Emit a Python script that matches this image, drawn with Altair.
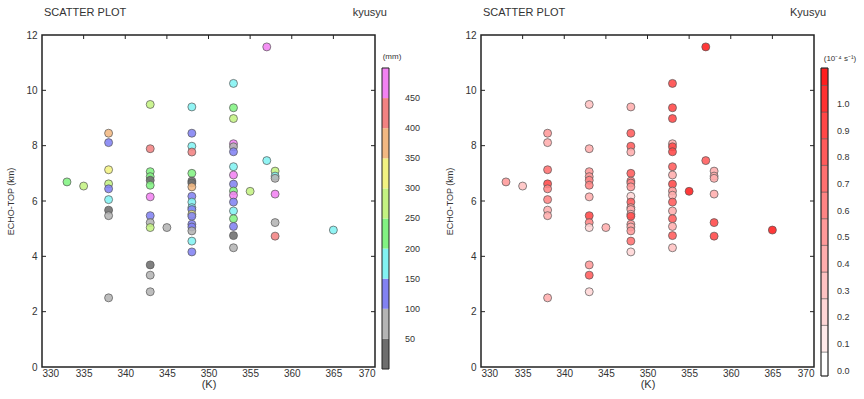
import altair as alt
import pandas as pd

# ---------------- data ----------------
temp_k = [333, 335,
          338, 338, 338, 338, 338, 338, 338, 338, 338,
          343, 343, 343, 343, 343, 343, 343, 343, 343, 343, 343, 343, 343,
          345,
          348, 348, 348, 348, 348, 348, 348, 348, 348, 348, 348, 348, 348, 348, 348, 348, 348, 348, 348,
          353, 353, 353, 353, 353, 353, 353, 353, 353, 353, 353, 353, 353, 353, 353, 353, 353,
          355, 357, 357, 358, 358, 358, 358, 358, 358, 365]
echo_top_km = [6.69, 6.54,
               8.45, 8.11, 7.13, 6.62, 6.44, 6.05, 5.67, 5.47, 2.50,
               9.49, 7.89, 7.06, 6.88, 6.75, 6.57, 6.15, 5.47, 5.22, 5.04, 3.69, 3.32, 2.72,
               5.04,
               9.40, 8.45, 7.98, 7.77, 7.00, 6.72, 6.65, 6.51, 6.17, 5.96, 5.76, 5.69, 5.52, 5.45, 5.16, 5.06, 4.92, 4.55, 4.16,
               10.25, 9.37, 8.98, 8.07, 7.96, 7.78, 7.24, 6.94, 6.61, 6.36, 6.21, 5.96, 5.64, 5.36, 5.08, 4.75, 4.31,
               6.35, 11.57, 7.46, 7.08, 6.90, 6.82, 6.25, 5.22, 4.73, 4.95]
rain_mm = [215, 262,
           372, 128, 318, 268, 112, 176, 38, 72, 84,
           255, 418, 205, 232, 45, 221, 462, 135, 66, 252, 35, 78, 61,
           88,
           165, 142, 188, 432, 240, 28, 45, 385, 118, 158, 182, 104, 330, 147, 126, 109, 70, 171, 131,
           178, 228, 276, 471, 92, 119, 163, 455, 138, 246, 483, 114, 192, 211, 122, 41, 64,
           284, 490, 185, 259, 167, 76, 466, 82, 410, 173]
shear = [0.5, 0.3,
         0.5, 0.4, 0.7, 0.9, 0.6, 0.6, 0.4, 0.4, 0.4,
         0.3, 0.4, 0.5, 0.5, 0.6, 0.6, 0.4, 0.9, 0.6, 0.2, 0.5, 0.8, 0.2,
         0.4,
         0.4, 0.8, 0.8, 0.4, 0.8, 0.6, 0.6, 0.5, 0.2, 0.8, 0.5, 0.4, 0.3, 0.9, 0.5, 0.4, 0.5, 0.7, 0.2,
         0.9, 0.9, 0.9, 0.4, 0.9, 0.9, 0.8, 0.4, 0.9, 0.5, 0.4, 0.8, 0.4, 0.8, 0.4, 0.8, 0.3,
         1.1, 1.1, 0.8, 0.4, 0.4, 0.4, 0.4, 0.9, 0.9, 1.1]

x_ticks = [330, 335, 340, 345, 350, 355, 360, 365, 370]
y_ticks = [0, 2, 4, 6, 8, 10, 12]
inner_x_ticks = [335, 340, 345, 350, 355, 360, 365]
inner_y_ticks = [2, 4, 6, 8, 10]

rain_edges = [0, 50, 100, 150, 200, 250, 300, 350, 400, 450, 500]
rain_colors = ["#6e6e6e", "#b4b4b4", "#8282f2", "#82f2f2", "#82f282",
               "#c4f282", "#f2f282", "#f2b882", "#f28282", "#f282f2"]
rain_labels = [50, 100, 150, 200, 250, 300, 350, 400, 450]

shear_edges = [-0.02, 0.07, 0.17, 0.27, 0.37, 0.47, 0.57, 0.67, 0.77, 0.87, 0.97, 1.07, 1.135]
shear_colors = ["#ffffff", "#ffeaea", "#ffd6d6", "#ffc2c2", "#ffadad", "#ff9999",
                "#ff8484", "#ff7070", "#ff5b5b", "#ff4747", "#ff3232", "#ff1e1e"]
shear_labels = [0.0, 0.1, 0.2, 0.3, 0.4, 0.5, 0.6, 0.7, 0.8, 0.9, 1.0]

chart_title = "SCATTER PLOT"
region_names = ["kyusyu", "Kyusyu"]
unit_labels = ["(mm)", "(10\u207b\u2074 s\u207b\u00b9)"]

# ---------------- styling ----------------
FONT = "Liberation Sans"
TXT = "#333333"
W, H = 333, 332

df = pd.DataFrame({"k": temp_k, "h": echo_top_km, "rain": rain_mm, "shear": shear})

x_enc = alt.X("k:Q", scale=alt.Scale(domain=[330, 370], nice=False, zero=False),
              axis=alt.Axis(values=x_ticks, title="(K)", grid=False, ticks=False, tickSize=0,
                            domain=False, labelPadding=1, titlePadding=0, labelFontSize=10,
                            titleFontSize=11, labelColor=TXT, titleColor=TXT, labelFont=FONT,
                            titleFont=FONT, titleFontWeight="normal"))
y_enc = alt.Y("h:Q", scale=alt.Scale(domain=[0, 12], nice=False, zero=True),
              axis=alt.Axis(values=y_ticks, title="ECHO-TOP (km)", grid=False, ticks=False,
                            tickSize=0, domain=False, labelPadding=5, titlePadding=10,
                            labelFontSize=10, titleFontSize=9, labelColor=TXT, titleColor=TXT,
                            labelFont=FONT, titleFont=FONT, titleFontWeight="normal"))

yt_df = pd.DataFrame({"h": inner_y_ticks})
xt_df = pd.DataFrame({"k": inner_x_ticks})


def scatter(field, thresholds, colors, region):
    pts = alt.Chart(df).mark_circle(size=64, stroke="#555555", strokeWidth=0.7,
                                    fillOpacity=0.88, opacity=1).encode(
        x=x_enc, y=y_enc,
        fill=alt.Fill(f"{field}:Q", scale=alt.Scale(type="threshold", domain=thresholds,
                                                    range=colors), legend=None))
    lt = alt.Chart(yt_df).mark_rule(color="#222222", strokeWidth=1).encode(
        y=y_enc, x=alt.value(0), x2=alt.value(4))
    rt = alt.Chart(yt_df).mark_rule(color="#222222", strokeWidth=1).encode(
        y=y_enc, x=alt.value(W - 4), x2=alt.value(W))
    tt = alt.Chart(xt_df).mark_rule(color="#222222", strokeWidth=1).encode(
        x=x_enc, y=alt.value(0), y2=alt.value(4))
    ttl = alt.Chart(pd.DataFrame({"t": [chart_title]})).mark_text(
        align="left", baseline="middle", fontSize=11, font=FONT, color=TXT).encode(
        x=alt.value(2), y=alt.value(-22), text="t:N")
    reg = alt.Chart(pd.DataFrame({"t": [region]})).mark_text(
        align="right", baseline="middle", fontSize=11, font=FONT, color=TXT).encode(
        x=alt.value(W + 12), y=alt.value(-22), text="t:N")
    return alt.layer(pts, lt, rt, tt, ttl, reg).properties(
        width=W, height=H, view=alt.ViewBackground(stroke="#222222", strokeWidth=1.5))


def colorbar(edges, colors, labels, fmt, domain, height, width, label_x, unit, unit_x, unit_y,
             cell_stroke):
    scale = alt.Scale(domain=domain, nice=False, zero=False)
    cells = pd.DataFrame({"lo": edges[:-1], "hi": edges[1:], "c": colors})
    bar_kw = dict(strokeWidth=0.5, stroke="#555555") if cell_stroke else dict(strokeWidth=0)
    bar = alt.Chart(cells).mark_rect(**bar_kw).encode(
        x=alt.value(0), x2=alt.value(7),
        y=alt.Y("lo:Q", scale=scale, axis=None), y2="hi:Q",
        fill=alt.Fill("c:N", scale=None))
    frame = alt.Chart(pd.DataFrame({"lo": [edges[0]], "hi": [edges[-1]]})).mark_rect(
        fillOpacity=0, stroke="#222222", strokeWidth=1).encode(
        x=alt.value(0), x2=alt.value(7),
        y=alt.Y("lo:Q", scale=scale, axis=None), y2="hi:Q")
    lab = alt.Chart(pd.DataFrame({"lo": labels})).mark_text(
        align="left", baseline="middle", fontSize=9, font=FONT, color=TXT).encode(
        x=alt.value(label_x), y=alt.Y("lo:Q", scale=scale, axis=None),
        text=alt.Text("lo:Q", format=fmt))
    un = alt.Chart(pd.DataFrame({"t": [unit]})).mark_text(
        align="center", baseline="middle", fontSize=8, font=FONT, color=TXT).encode(
        x=alt.value(unit_x), y=alt.value(unit_y), text="t:N")
    return alt.layer(bar, frame, lab, un).properties(
        width=width, height=height, view=alt.ViewBackground(strokeWidth=0))


sL = scatter("rain", rain_edges[1:-1], rain_colors, region_names[0])
sR = scatter("shear", shear_edges[1:-1], shear_colors, region_names[1])
cbL = colorbar(rain_edges, rain_colors, rain_labels, "d", [0, 554.8], 334, 92, 23,
               unit_labels[0], 10, 22, False)
cbR = colorbar(shear_edges, shear_colors, shear_labels, ".1f", [-0.02, 1.259], 341, 40, 16,
               unit_labels[1], 19, 24, True)

chart = alt.hconcat(sL, cbL, sR, cbR, spacing=7, bounds="flush").resolve_scale(
    fill="independent", x="independent", y="independent"
).properties(
    padding={"left": 6, "top": 6, "right": 0, "bottom": 0}
).configure(background="white").configure_view(stroke="transparent")

chart.save("out.html", embed_options={"renderer": "svg", "actions": False})
